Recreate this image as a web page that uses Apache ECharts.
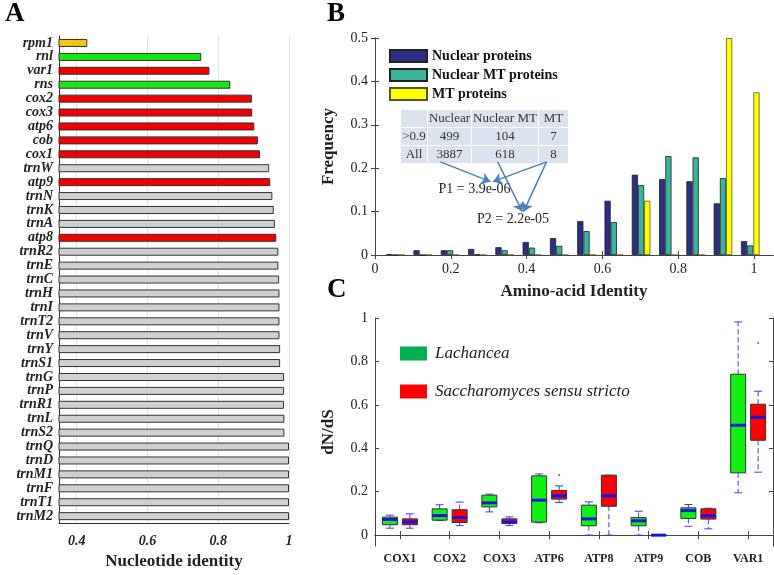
<!DOCTYPE html>
<html><head><meta charset="utf-8">
<script src="https://cdn.jsdelivr.net/npm/echarts@6/dist/echarts.min.js"></script>
<style>html,body{margin:0;padding:0;background:#fff}#c{width:774px;height:575px}</style>
</head><body><div id="c"></div>
<script>
// ---------- Panel A data ----------
const genes = ['rpm1','rnl','var1','rns','cox2','cox3','atp6','cob','cox1','trnW','atp9','trnN','trnK','trnA','atp8','trnR2','trnE','trnC','trnH','trnI','trnT2','trnV','trnY','trnS1','trnG','trnP','trnR1','trnL','trnS2','trnQ','trnD','trnM1','trnF','trnT1','trnM2'];
const identity = [0.430,0.752,0.775,0.834,0.895,0.896,0.902,0.912,0.918,0.944,0.947,0.953,0.957,0.960,0.964,0.970,0.970,0.972,0.973,0.973,0.973,0.973,0.975,0.975,0.986,0.986,0.986,0.987,0.987,1,1,1,1,1,1];
const geneClass = ['rnaseP','rRNA','protein','rRNA','protein','protein','protein','protein','protein','tRNA','protein','tRNA','tRNA','tRNA','protein','tRNA','tRNA','tRNA','tRNA','tRNA','tRNA','tRNA','tRNA','tRNA','tRNA','tRNA','tRNA','tRNA','tRNA','tRNA','tRNA','tRNA','tRNA','tRNA','tRNA'];
const xTicksA = [0.4,0.6,0.8,1];

// ---------- Panel B data ----------
const binCenters = [0.054,0.126,0.198,0.27,0.342,0.414,0.486,0.558,0.63,0.702,0.774,0.846,0.918,0.99];
const nuclearFreq = [0.002,0.011,0.011,0.014,0.018,0.030,0.039,0.078,0.125,0.185,0.175,0.170,0.119,0.032];
const nuclearMTFreq = [0,0,0.011,0.002,0.011,0.017,0.021,0.055,0.076,0.161,0.228,0.225,0.177,0.022];
const mtFreq = [0,0,0,0,0,0,0,0,0,0.125,0,0,0.5,0.375];
const seriesNamesB = ['Nuclear proteins','Nuclear MT proteins','MT proteins'];
const xTicksB = [0,0.2,0.4,0.6,0.8,1];
const tableHeader = ['', 'Nuclear', 'Nuclear MT', 'MT'];
const tableRows = [['>0.9','499','104','7'],['All','3887','618','8']];
const pTexts = ['P1 = 3.9e-06','P2 = 2.2e-05'];
const arrowLines = [
  [[0.189,0.2146],[0.321,0.169]],
  [[0.469,0.2146],[0.3275,0.169]],
  [[0.340,0.2146],[0.405,0.100]],
  [[0.469,0.2146],[0.4084,0.100]]
];

// ---------- Panel C data ----------
const genesC = ['COX1','COX2','COX3','ATP6','ATP8','ATP9','COB','VAR1'];
// [min, q1, median, q3, max]
const lachancea = [
  [0.032,0.048,0.072,0.083,0.092],
  [0.068,0.069,0.090,0.121,0.140],
  [0.107,0.130,0.149,0.184,0.189],
  [0.057,0.060,0.161,0.273,0.282],
  [0,0.043,0.075,0.138,0.153],
  [0,0.043,0.066,0.081,0.110],
  [0.041,0.077,0.113,0.126,0.141],
  [0.195,0.287,0.506,0.741,0.982]
];
const saccharomyces = [
  [0.032,0.048,0.061,0.075,0.098],
  [0.044,0.058,0.081,0.117,0.152],
  [0.044,0.054,0.061,0.075,0.084],
  [0.150,0.166,0.181,0.206,0.227],
  [0,0.133,0.181,0.276,0.276],
  [0,0,0,0,0],
  [0.029,0.074,0.089,0.121,0.124],
  [0.290,0.437,0.543,0.603,0.663]
];
const saccOutliers = [[3,0.276],[7,0.885]];
const yTicksC = [0,0.2,0.4,0.6,0.8,1];
const seriesNamesC = ['Lachancea','Saccharomyces sensu stricto'];

// ---------- styles ----------
const FONT = '"Liberation Serif","Times New Roman",serif';
const classColor = {rnaseP:'#f4c514', rRNA:'#16e616', protein:'#f20000', tRNA:'#d0d0d0'};
const colorsB = ['#2d2d86','#3bb39b','#ffff00'];
const axisCol = '#444';

const chart = echarts.init(document.getElementById('c'), null, {renderer:'canvas'});

function boxRenderer(off, fill){
  return function(params, api){
    const c = api.value(0);
    const x = api.coord([c, 0])[0] + off;
    const Y = k => api.coord([c, api.value(k)])[1];
    const yMin=Y(1), yQ1=Y(2), yMed=Y(3), yQ3=Y(4), yMax=Y(5);
    const hw=7.5, cw=4;
    const dash={stroke:'#3a3af0', lineWidth:1, lineDash:[5,3]};
    const solid={stroke:'#3a3af0', lineWidth:1};
    const ch=[];
    if (yQ3 - yMax > 0.5) ch.push({type:'line', shape:{x1:x,y1:yQ3,x2:x,y2:yMax}, style:dash});
    if (yMin - yQ1 > 0.5) ch.push({type:'line', shape:{x1:x,y1:yQ1,x2:x,y2:yMin}, style:dash});
    ch.push({type:'line', shape:{x1:x-cw,y1:yMax,x2:x+cw,y2:yMax}, style:solid});
    ch.push({type:'line', shape:{x1:x-cw,y1:yMin,x2:x+cw,y2:yMin}, style:solid});
    ch.push({type:'rect', shape:{x:x-hw, y:yQ3, width:hw*2, height:Math.max(yQ1-yQ3,0)}, style:{fill:fill, stroke:'#333', lineWidth:1}});
    ch.push({type:'line', shape:{x1:x-hw,y1:yMed,x2:x+hw,y2:yMed}, style:{stroke:'#1414e6', lineWidth:3}});
    return {type:'group', children:ch};
  };
}
function outlierRenderer(off){
  return function(params, api){
    const p = api.coord([api.value(0), api.value(1)]);
    return {type:'circle', shape:{cx:p[0]+off, cy:p[1], r:1.1}, style:{fill:'#777'}};
  };
}

// table graphic
const colX = [[401,427],[428,471],[472,538],[539,568]];
const rowY = [[110,127],[128,145],[146,163]];
const tableCells = [tableHeader].concat(tableRows);
const tableGraphics = [];
tableCells.forEach((row, r) => {
  row.forEach((txt, c) => {
    tableGraphics.push({type:'rect', shape:{x:colX[c][0], y:rowY[r][0], width:colX[c][1]-colX[c][0], height:rowY[r][1]-rowY[r][0]}, style:{fill:'#dde3ee'}, silent:true});
    if (txt) tableGraphics.push({type:'text', x:(colX[c][0]+colX[c][1])/2, y:(rowY[r][0]+rowY[r][1])/2+0.5,
      style:{text:txt, font:'13px '+FONT, fill:'#333', align:'center', verticalAlign:'middle', textAlign:'center', textVerticalAlign:'middle'}, silent:true});
  });
});

const letterStyle = t => ({text:t, font:'bold 27px '+FONT, fill:'#000'});

const insideTick = {show:true, inside:true, length:4, lineStyle:{color:axisCol}};
const labelB = {fontFamily:FONT, fontSize:14, color:'#222', margin:7};
const nameStyle = {fontFamily:FONT, fontWeight:'bold', fontSize:17, color:'#222'};

const option = {
  animation:false,
  backgroundColor:'#fff',
  grid:[
    {left:59, top:36, width:230, height:492},
    {left:375, top:38, width:398, height:217},
    {left:375, top:318, width:398, height:228}
  ],
  legend:[
    {data:seriesNamesB, orient:'vertical', left:389, top:49, padding:0, itemWidth:37, itemHeight:12, itemGap:5, icon:'rect',
     textStyle:{fontFamily:FONT, fontWeight:'bold', fontSize:14, color:'#111'}, selectedMode:false},
    {data:[{name:seriesNamesC[0], itemStyle:{color:'#00b050', borderWidth:0}}, {name:seriesNamesC[1], itemStyle:{color:'#ff0000', borderWidth:0}}],
     orient:'vertical', left:400, top:345, padding:0, itemWidth:27, itemHeight:14, itemGap:21, icon:'rect',
     textStyle:{fontFamily:FONT, fontStyle:'italic', fontSize:17, color:'#222', padding:[0,0,0,3]}, selectedMode:false}
  ],
  xAxis:[
    {gridIndex:0, type:'value', min:0.35, max:1,
     axisLine:{show:true, lineStyle:{color:'#333'}},
     axisTick:{show:false, customValues:xTicksA},
     axisLabel:{customValues:xTicksA, fontFamily:FONT, fontStyle:'italic', fontWeight:'bold', fontSize:14, color:'#222', margin:11},
     splitLine:{show:true, lineStyle:{color:'#e4e4e4'}},
     name:'Nucleotide identity', nameLocation:'middle', nameGap:29, nameTextStyle:nameStyle},
    {gridIndex:1, type:'value', min:0, max:1.05,
     axisLine:{lineStyle:{color:axisCol}}, axisTick:Object.assign({customValues:xTicksB}, insideTick),
     axisLabel:Object.assign({customValues:xTicksB}, labelB), splitLine:{show:false},
     name:'Amino-acid Identity', nameLocation:'middle', nameGap:28, nameTextStyle:nameStyle},
    {gridIndex:1, type:'value', position:'top', min:0, max:1.05,
     axisLine:{lineStyle:{color:axisCol}}, axisTick:Object.assign({customValues:xTicksB}, insideTick),
     axisLabel:{show:false}, splitLine:{show:false}},
    {gridIndex:2, type:'category', data:genesC, boundaryGap:true,
     axisLine:{lineStyle:{color:axisCol}}, axisTick:Object.assign({alignWithLabel:true}, insideTick),
     axisLabel:{fontFamily:FONT, fontWeight:'bold', fontSize:12, color:'#222', margin:7}},
    {gridIndex:2, type:'category', data:genesC, boundaryGap:true, position:'top',
     axisLine:{lineStyle:{color:axisCol}}, axisTick:Object.assign({alignWithLabel:true}, insideTick),
     axisLabel:{show:false}}
  ],
  yAxis:[
    {gridIndex:0, type:'category', inverse:true, data:genes,
     axisLine:{show:true, lineStyle:{color:'#333'}}, axisTick:{show:false},
     axisLabel:{fontFamily:FONT, fontStyle:'italic', fontWeight:'bold', fontSize:14, color:'#222', margin:6, interval:0}},
    {gridIndex:1, type:'value', min:0, max:0.5, interval:0.1,
     axisLine:{show:true, lineStyle:{color:axisCol}}, axisTick:insideTick, axisLabel:labelB, splitLine:{show:false},
     name:'Frequency', nameLocation:'middle', nameGap:38, nameTextStyle:nameStyle},
    {gridIndex:1, type:'value', position:'right', min:0, max:0.5, interval:0.1,
     axisLine:{show:true, lineStyle:{color:axisCol}}, axisTick:insideTick, axisLabel:{show:false}, splitLine:{show:false}},
    {gridIndex:2, type:'value', min:-0.05, max:1,
     axisLine:{show:true, lineStyle:{color:axisCol}}, axisTick:Object.assign({customValues:yTicksC}, insideTick),
     axisLabel:Object.assign({customValues:yTicksC}, labelB), splitLine:{show:false},
     name:'dN/dS', nameLocation:'middle', nameGap:38, nameTextStyle:nameStyle},
    {gridIndex:2, type:'value', position:'right', min:-0.05, max:1,
     axisLine:{show:true, lineStyle:{color:axisCol}}, axisTick:Object.assign({customValues:yTicksC}, insideTick),
     axisLabel:{show:false}, splitLine:{show:false}}
  ],
  series:[
    {type:'bar', xAxisIndex:0, yAxisIndex:0, barWidth:8,
     itemStyle:{borderColor:'#333', borderWidth:1},
     data:identity.map((v,i)=>({value:v, itemStyle:{color:classColor[geneClass[i]]}}))},
    {type:'bar', name:seriesNamesB[0], xAxisIndex:1, yAxisIndex:1, barWidth:6.2, barGap:'0%',
     itemStyle:{color:colorsB[0], borderColor:'#222', borderWidth:0.8},
     data:binCenters.map((x,i)=>[x, nuclearFreq[i]]),
     markLine:{silent:true, symbol:['none','arrow'], symbolSize:9, animation:false,
       lineStyle:{color:'#4a7fc1', width:1.5, type:'solid'}, label:{show:false}, emphasis:{disabled:true},
       data:arrowLines.map(a=>[{coord:a[0]},{coord:a[1]}])}},
    {type:'bar', name:seriesNamesB[1], xAxisIndex:1, yAxisIndex:1, barWidth:6.2, barGap:'0%',
     itemStyle:{color:colorsB[1], borderColor:'#222', borderWidth:0.8},
     data:binCenters.map((x,i)=>[x, nuclearMTFreq[i]])},
    {type:'bar', name:seriesNamesB[2], xAxisIndex:1, yAxisIndex:1, barWidth:6.2, barGap:'0%',
     itemStyle:{color:colorsB[2], borderColor:'#555522', borderWidth:0.8},
     data:binCenters.map((x,i)=>[x, mtFreq[i]])},
    {type:'custom', name:seriesNamesC[0], xAxisIndex:3, yAxisIndex:3, itemStyle:{color:'#00b050'},
     renderItem:boxRenderer(-10, '#11f011'), encode:{x:0, y:[1,2,3,4,5]},
     data:lachancea.map((d,i)=>[i].concat(d)), z:3},
    {type:'custom', name:seriesNamesC[1], xAxisIndex:3, yAxisIndex:3, itemStyle:{color:'#ff0000'},
     renderItem:boxRenderer(10, '#ff0000'), encode:{x:0, y:[1,2,3,4,5]},
     data:saccharomyces.map((d,i)=>[i].concat(d)), z:3},
    {type:'custom', name:'outliers', xAxisIndex:3, yAxisIndex:3,
     renderItem:outlierRenderer(10), encode:{x:0, y:1}, data:saccOutliers, z:3}
  ],
  graphic:[
    {type:'text', left:5, top:1, style:letterStyle('A')},
    {type:'text', left:327, top:1, style:letterStyle('B')},
    {type:'text', left:327, top:277, style:letterStyle('C')},
    {type:'group', left:0, top:0, children:tableGraphics, silent:true, bounding:'raw'},
    {type:'text', x:474.5, y:189.5, style:{text:pTexts[0], font:'14px '+FONT, fill:'#222', align:'center', verticalAlign:'middle', textAlign:'center', textVerticalAlign:'middle'}},
    {type:'text', x:513, y:219.5, style:{text:pTexts[1], font:'14px '+FONT, fill:'#222', align:'center', verticalAlign:'middle', textAlign:'center', textVerticalAlign:'middle'}}
  ]
};
chart.setOption(option);
</script>
</body></html>
